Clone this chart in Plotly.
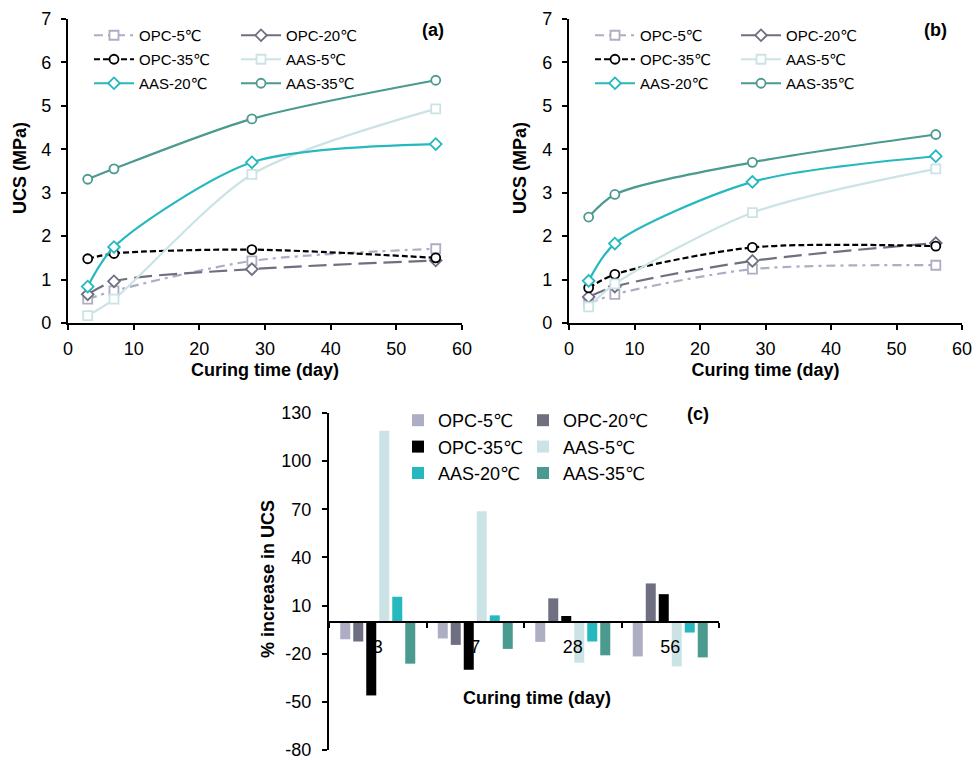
import plotly.graph_objects as go

# ---------------- data ----------------
days = [3, 7, 28, 56]
series_names = ["OPC-5℃", "OPC-20℃", "OPC-35℃", "AAS-5℃", "AAS-20℃", "AAS-35℃"]

# panel (a) UCS (MPa)
a_opc5 = [0.55, 0.74, 1.43, 1.71]
a_opc20 = [0.66, 0.96, 1.24, 1.44]
a_opc35 = [1.48, 1.60, 1.69, 1.50]
a_aas5 = [0.17, 0.55, 3.42, 4.93]
a_aas20 = [0.84, 1.75, 3.70, 4.12]
a_aas35 = [3.31, 3.55, 4.70, 5.59]

# panel (b) UCS (MPa)
b_opc5 = [0.45, 0.66, 1.24, 1.33]
b_opc20 = [0.60, 0.84, 1.43, 1.84]
b_opc35 = [0.81, 1.12, 1.74, 1.77]
b_aas5 = [0.37, 0.90, 2.54, 3.55]
b_aas20 = [0.97, 1.83, 3.25, 3.84]
b_aas35 = [2.44, 2.96, 3.70, 4.34]

# panel (c) % increase in UCS
c_categories = ["3", "7", "28", "56"]
c_opc5 = [-11.0, -10.5, -12.6, -21.7]
c_opc20 = [-12.4, -14.5, 14.5, 23.8]
c_opc35 = [-46.0, -30.0, 3.5, 17.1]
c_aas5 = [119.0, 68.8, -25.6, -27.9]
c_aas20 = [15.5, 3.9, -12.4, -6.8]
c_aas35 = [-26.2, -17.0, -21.0, -22.3]
c_tickvals = [-80, -50, -20, 10, 40, 70, 100, 130]
c_ticktext = ["-80", "-50", "-20", "10", "40", "70", "100", "130"]

# ---------------- styles ----------------
colors = ["#ADADC4", "#6F6F82", "#000000", "#CCE3E5", "#25B8BE", "#4A9A90"]
dashes = ["9px,5px,3px,5px", "18px,7px", "6px,3px", "solid", "solid", "solid"]
symbols = ["square", "diamond", "circle", "square", "diamond", "circle"]
col_of = [0, 1, 0, 1, 0, 1]  # legend column for each series

FONT = "Liberation Sans, Arial, DejaVu Sans, sans-serif"

fig = go.Figure()

a_data = [a_opc5, a_opc20, a_opc35, a_aas5, a_aas20, a_aas35]
b_data = [b_opc5, b_opc20, b_opc35, b_aas5, b_aas20, b_aas35]
c_data = [c_opc5, c_opc20, c_opc35, c_aas5, c_aas20, c_aas35]

for panel, (data, xa, ya, legs) in enumerate([
    (a_data, "x", "y", ("legend", "legend2")),
    (b_data, "x2", "y2", ("legend3", "legend4")),
]):
    for i, name in enumerate(series_names):
        fig.add_trace(go.Scatter(
            x=days, y=data[i], name=name, mode="lines+markers",
            line=dict(color=colors[i], width=2.2, dash=dashes[i], shape="spline", smoothing=0.8),
            marker=dict(symbol=symbols[i], size=9, color="white",
                        line=dict(color=colors[i], width=1.8)),
            xaxis=xa, yaxis=ya, legend=legs[col_of[i]], legendgroup=f"p{panel}_{i}",
        ))

for i, name in enumerate(series_names):
    fig.add_trace(go.Bar(
        x=c_categories, y=c_data[i], name=name, marker=dict(color=colors[i], line=dict(width=0)),
        xaxis="x3", yaxis="y3", legend=("legend5", "legend6")[col_of[i]], legendgroup=f"c_{i}",
    ))

W, H = 977, 760
def px_x(p):
    return p / W
def px_y(p):
    return 1 - p / H

axis_common = dict(showline=True, linecolor="black", linewidth=2.2, ticks="outside",
                   ticklen=5, tickwidth=2, tickcolor="black", showgrid=False, zeroline=False,
                   ticklabeloverflow="allow", tickfont=dict(family=FONT, size=18, color="black"))
title_font = dict(family=FONT, size=18, color="black")

leg_common = dict(font=dict(family=FONT, size=15, color="black"), bgcolor="rgba(0,0,0,0)",
                  tracegroupgap=1.5, xanchor="left", yanchor="top", itemwidth=40,
                  xref="container", yref="container")
leg_c = {**leg_common, "font": dict(family=FONT, size=18, color="black"), "itemwidth": 30,
         "tracegroupgap": 0}


def txt(text, x, y, angle=0, size=18):
    return dict(text=text, x=px_x(x), y=px_y(y), xref="paper", yref="paper", showarrow=False,
                xanchor="center", yanchor="middle", textangle=angle,
                font=dict(family=FONT, size=size, color="black"))


fig.update_layout(
    width=W, height=H, margin=dict(l=0, r=0, t=0, b=0, autoexpand=False),
    paper_bgcolor="white", plot_bgcolor="white",
    font=dict(family=FONT, color="black"),
    barmode="group", bargap=0.2, bargroupgap=0.23,
    xaxis=dict(domain=[px_x(68), px_x(462)], range=[0, 60], dtick=10, anchor="y", ticklabelstandoff=3,
               title=dict(text="<b>Curing time (day)</b>", font=title_font, standoff=6), **axis_common),
    yaxis=dict(domain=[px_y(323), px_y(19)], range=[0, 7], dtick=1, anchor="x", ticklabelstandoff=6,
               **axis_common),
    xaxis2=dict(domain=[px_x(569), px_x(962)], range=[0, 60], dtick=10, anchor="y2", ticklabelstandoff=3,
                title=dict(text="<b>Curing time (day)</b>", font=title_font, standoff=6), **axis_common),
    yaxis2=dict(domain=[px_y(323), px_y(19)], range=[0, 7], dtick=1, anchor="x2", ticklabelstandoff=6,
                **axis_common),
    xaxis3=dict(domain=[px_x(329), px_x(719)], anchor="free", position=px_y(622),
                type="category", tickson="boundaries", layer="above traces", ticklabelstandoff=8,
                **axis_common),
    yaxis3=dict(domain=[px_y(750), px_y(413)], range=[-80, 130], tickvals=c_tickvals,
                ticktext=c_ticktext, anchor="x3", ticklabelstandoff=7, **axis_common),
    legend=dict(x=px_x(89), y=px_y(19), **leg_common),
    legend2=dict(x=px_x(236), y=px_y(19), **leg_common),
    legend3=dict(x=px_x(590), y=px_y(19), **leg_common),
    legend4=dict(x=px_x(736), y=px_y(19), **leg_common),
    legend5=dict(x=px_x(398), y=px_y(402), **leg_c),
    legend6=dict(x=px_x(523), y=px_y(402), **leg_c),
    annotations=[
        txt("<b>(a)</b>", 433, 30),
        txt("<b>(b)</b>", 935, 30),
        txt("<b>(c)</b>", 698, 414),
        txt("<b>Curing time (day)</b>", 537, 698),
        txt("<b>UCS (MPa)</b>", 20, 168, angle=-90),
        txt("<b>UCS (MPa)</b>", 520, 168, angle=-90),
        txt("<b>% increase in UCS</b>", 268, 579, angle=-90),
    ],
)

fig.write_html("out.html")
